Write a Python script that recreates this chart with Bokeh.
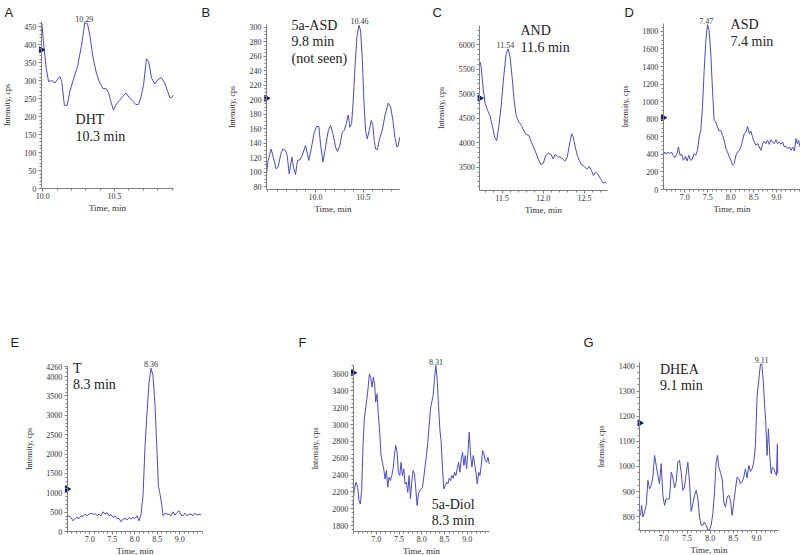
import math
from bokeh.plotting import figure
from bokeh.layouts import column, row
from bokeh.models import FixedTicker, PrintfTickFormatter, Label, Range1d
from bokeh.embed import file_html
from bokeh.resources import INLINE

# ---------------- data ----------------
panel_letters = ["A", "B", "C", "D", "E", "F", "G"]
compound_names = ["DHT\n10.3 min", "5a-ASD\n9.8 min\n(not seen)", "AND\n11.6 min",
                  "ASD\n7.4 min", "T\n8.3 min", "5a-Diol\n8.3 min", "DHEA\n9.1 min"]
peak_labels = ["10.29", "10.46", "11.54", "7.47", "8.36", "8.31", "9.11"]
marker_levels = [386, 202, 4910, 817, 1095, 3616, 1173]

A_time = [9.995, 10.005, 10.025, 10.041, 10.064, 10.087, 10.110, 10.119, 10.133, 10.151,
          10.170, 10.190, 10.213, 10.243, 10.271, 10.293, 10.312, 10.328, 10.351, 10.374,
          10.397, 10.420, 10.442, 10.459, 10.477, 10.493, 10.511, 10.534, 10.557, 10.580,
          10.603, 10.626, 10.649, 10.667, 10.683, 10.702, 10.722, 10.738, 10.757, 10.779,
          10.802, 10.825, 10.848, 10.867, 10.885, 10.896, 10.908]
A_cps = [459, 409, 335, 298, 300, 294, 308, 312, 298, 232,
         231, 271, 303, 340, 400, 462, 459, 427, 363, 321,
         294, 278, 278, 266, 239, 218, 234, 245, 257, 266,
         253, 243, 234, 234, 253, 289, 361, 353, 308, 291,
         303, 309, 294, 273, 253, 253, 260]

B_time = [9.486, 9.503, 9.535, 9.566, 9.587, 9.608, 9.636, 9.657, 9.685, 9.703,
          9.724, 9.752, 9.769, 9.790, 9.811, 9.836, 9.860, 9.895, 9.930, 9.958,
          9.983, 10.010, 10.035, 10.052, 10.077, 10.105, 10.133, 10.157, 10.182, 10.210,
          10.231, 10.255, 10.280, 10.301, 10.322, 10.343, 10.360, 10.378, 10.395, 10.413,
          10.434, 10.455, 10.472, 10.490, 10.510, 10.524, 10.542, 10.563, 10.584, 10.601,
          10.615, 10.629, 10.647, 10.671, 10.699, 10.727, 10.762, 10.787, 10.811, 10.832,
          10.853, 10.867, 10.881]
B_cps = [97.6, 116, 132, 116, 104.5, 107, 125, 132, 130, 123,
         97.6, 120.7, 107, 96.6, 116, 117, 123, 137, 116, 134.5,
         153, 163, 163, 139, 114, 134.5, 157, 164.6, 153, 134.5,
         128.5, 137, 155, 157.6, 167, 179, 162, 167, 199, 245,
         287, 303, 296, 255, 190, 157.6, 146, 157.6, 171.5, 164.6,
         143.8, 132, 131, 146, 157.6, 178, 195.5, 190, 171.5, 148,
         134.5, 137, 148]

C_time = [11.235, 11.247, 11.271, 11.296, 11.325, 11.353, 11.386, 11.410, 11.435, 11.459,
          11.488, 11.516, 11.549, 11.573, 11.598, 11.622, 11.647, 11.671, 11.704, 11.737,
          11.761, 11.794, 11.826, 11.855, 11.883, 11.916, 11.944, 11.973, 12.002, 12.030,
          12.063, 12.095, 12.120, 12.144, 12.173, 12.201, 12.234, 12.263, 12.291, 12.320,
          12.344, 12.365, 12.389, 12.414, 12.438, 12.462, 12.487, 12.511, 12.536, 12.560,
          12.585, 12.609, 12.634, 12.658, 12.683, 12.707, 12.732, 12.756, 12.772]
C_cps = [5646, 5544, 5101, 4794, 4658, 4556, 4317, 4113, 4045, 4317,
         4726, 5271, 5816, 5918, 5748, 5339, 4862, 4556, 4420, 4351,
         4249, 4168, 4147, 4011, 3909, 3772, 3650, 3554, 3582, 3738,
         3786, 3759, 3670, 3759, 3718, 3704, 3670, 3623, 3704, 3977,
         4181, 4113, 3909, 3738, 3636, 3554, 3534, 3486, 3466, 3514,
         3432, 3330, 3398, 3364, 3296, 3228, 3173, 3194, 3173]

D_time = [6.527, 6.564, 6.600, 6.636, 6.673, 6.709, 6.745, 6.782, 6.825, 6.862,
          6.898, 6.935, 6.971, 7.015, 7.051, 7.087, 7.124, 7.160, 7.204, 7.240,
          7.276, 7.313, 7.349, 7.385, 7.422, 7.458, 7.495, 7.531, 7.567, 7.604,
          7.640, 7.676, 7.713, 7.749, 7.785, 7.822, 7.858, 7.895, 7.931, 7.967,
          8.004, 8.040, 8.076, 8.113, 8.149, 8.185, 8.222, 8.258, 8.295, 8.331,
          8.367, 8.404, 8.440, 8.476, 8.513, 8.549, 8.585, 8.622, 8.658, 8.695,
          8.731, 8.767, 8.804, 8.840, 8.876, 8.913, 8.949, 8.985, 9.022, 9.058,
          9.095, 9.131, 9.167, 9.204, 9.240, 9.276, 9.313, 9.349, 9.385, 9.422,
          9.451, 9.480, 9.509]
D_cps = [389, 427, 401, 427, 408, 427, 389, 363, 401, 484,
         389, 401, 333, 378, 325, 389, 333, 340, 408, 389,
         446, 597, 673, 938, 1354, 1694, 1876, 1808, 1543, 1127,
         787, 768, 711, 666, 673, 616, 560, 465, 427, 371,
         333, 276, 295, 389, 427, 446, 484, 560, 635, 654,
         718, 635, 666, 597, 541, 503, 522, 484, 446, 522,
         552, 522, 560, 514, 567, 541, 522, 567, 522, 541,
         514, 541, 484, 492, 465, 484, 446, 484, 439, 579,
         522, 560, 484]

E_time = [6.496, 6.541, 6.585, 6.630, 6.674, 6.719, 6.763, 6.807, 6.852, 6.896,
          6.941, 6.985, 7.030, 7.074, 7.119, 7.163, 7.207, 7.252, 7.296, 7.341,
          7.385, 7.430, 7.474, 7.519, 7.563, 7.607, 7.652, 7.696, 7.741, 7.785,
          7.830, 7.874, 7.919, 7.963, 8.007, 8.052, 8.096, 8.141, 8.185, 8.230,
          8.274, 8.319, 8.363, 8.407, 8.452, 8.496, 8.526, 8.556, 8.600, 8.630,
          8.674, 8.719, 8.763, 8.807, 8.852, 8.896, 8.941, 8.985, 9.030, 9.074,
          9.119, 9.163, 9.207, 9.252, 9.296, 9.341, 9.385, 9.430, 9.474]
E_cps = [362, 405, 362, 276, 336, 362, 336, 405, 388, 448,
         405, 448, 474, 440, 466, 405, 448, 405, 509, 448,
         491, 405, 440, 362, 405, 336, 336, 250, 319, 336,
         302, 362, 319, 362, 336, 405, 276, 448, 922, 2216,
         3078, 3853, 4216, 4026, 3250, 2043, 1181, 1009, 707, 405,
         474, 448, 448, 405, 509, 422, 491, 534, 422, 405,
         474, 405, 448, 448, 405, 474, 422, 448, 431]

F_time = [6.485, 6.515, 6.551, 6.588, 6.618, 6.647, 6.676, 6.706, 6.735, 6.772,
          6.809, 6.846, 6.875, 6.904, 6.934, 6.963, 6.985, 7.015, 7.044, 7.074,
          7.103, 7.132, 7.162, 7.191, 7.221, 7.250, 7.279, 7.309, 7.338, 7.368,
          7.397, 7.426, 7.456, 7.485, 7.515, 7.544, 7.574, 7.603, 7.632, 7.662,
          7.691, 7.721, 7.750, 7.779, 7.809, 7.838, 7.868, 7.897, 7.926, 7.956,
          7.985, 8.015, 8.044, 8.074, 8.103, 8.132, 8.162, 8.191, 8.221, 8.250,
          8.279, 8.309, 8.338, 8.368, 8.397, 8.426, 8.456, 8.485, 8.515, 8.544,
          8.574, 8.603, 8.632, 8.662, 8.691, 8.721, 8.750, 8.779, 8.809, 8.838,
          8.868, 8.897, 8.926, 8.956, 8.985, 9.015, 9.044, 9.074, 9.103, 9.132,
          9.162, 9.191, 9.221, 9.250, 9.279, 9.309, 9.338, 9.368, 9.397, 9.426,
          9.456, 9.485]
F_cps = [2038, 2236, 2315, 2256, 2097, 2058, 2216, 2752, 3069, 3227,
         3386, 3604, 3564, 3445, 3564, 3473, 3267, 3366, 3108, 2910,
         2633, 2553, 2474, 2355, 2454, 2256, 2375, 2335, 2395, 2474,
         2633, 2752, 2672, 2434, 2395, 2553, 2395, 2474, 2296, 2316,
         2196, 2395, 2117, 2316, 2454, 2414, 2236, 2038, 2177, 2216,
         2236, 2256, 2375, 2514, 2633, 2791, 2989, 3188, 3275, 3346,
         3545, 3703, 3545, 3227, 2950, 2791, 2474, 2236, 2276, 2316,
         2296, 2363, 2335, 2395, 2363, 2434, 2395, 2474, 2553, 2434,
         2593, 2672, 2514, 2633, 2474, 2672, 2910, 2633, 2494, 2633,
         2533, 2434, 2296, 2434, 2395, 2514, 2692, 2652, 2573, 2553,
         2613, 2533]

G_time = [6.496, 6.518, 6.547, 6.583, 6.619, 6.655, 6.691, 6.727, 6.763, 6.799,
          6.835, 6.871, 6.906, 6.942, 6.978, 7.014, 7.050, 7.086, 7.122, 7.158,
          7.194, 7.230, 7.266, 7.302, 7.338, 7.374, 7.410, 7.446, 7.482, 7.518,
          7.554, 7.590, 7.626, 7.662, 7.698, 7.734, 7.770, 7.806, 7.842, 7.878,
          7.914, 7.950, 7.986, 8.022, 8.058, 8.094, 8.129, 8.158, 8.187, 8.223,
          8.259, 8.295, 8.331, 8.367, 8.403, 8.439, 8.475, 8.511, 8.547, 8.583,
          8.619, 8.655, 8.691, 8.727, 8.763, 8.799, 8.835, 8.871, 8.906, 8.942,
          8.978, 9.014, 9.050, 9.086, 9.115, 9.144, 9.173, 9.201, 9.230, 9.259,
          9.288, 9.317, 9.345, 9.374, 9.403, 9.432, 9.453, 9.460]
G_cps = [805, 845, 799, 819, 845, 944, 911, 925, 958, 1044,
         1004, 964, 931, 1011, 885, 845, 872, 869, 872, 977,
         958, 914, 938, 1017, 1024, 977, 905, 918, 971, 1017,
         938, 821, 852, 885, 905, 872, 799, 766, 766, 779,
         766, 747, 747, 766, 812, 898, 1017, 1044, 997, 977,
         951, 858, 838, 878, 885, 865, 805, 858, 911, 958,
         951, 931, 938, 958, 991, 954, 1004, 980, 991, 1017,
         1083, 1282, 1342, 1408, 1408, 1348, 1256, 1176, 1044, 1150,
         1044, 971, 997, 991, 977, 964, 1090, 971]

# ---------------- styling ----------------
SERIF = "Liberation Serif"
SANS = "Liberation Sans"
LINE = "#4b4bc4"
AXIS = "#808080"
TXT = "#333333"


def steps(a, b, s):
    n = int(round((b - a) / s))
    return [round(a + i * s, 4) for i in range(n + 1)]


def panel(idx, t, y, xr, yr, yticks, yminor, xticks, xminor,
          W, H, box, name_xy, letter_xy, ylab_standoff=10):
    # box: pixel position (left, top, right, bottom) of the axes inside the canvas
    l, tp, r, b = box
    sx = (xr[1] - xr[0]) / (r - l)
    sy = (yr[1] - yr[0]) / (b - tp)
    x_rng = Range1d(xr[0] - l * sx, xr[1] + (W - r) * sx)
    y_rng = Range1d(yr[0] - (H - b) * sy, yr[1] + tp * sy)

    p = figure(width=W, height=H, x_range=x_rng, y_range=y_rng,
               output_backend="svg", toolbar_location=None, min_border=0)
    p.grid.visible = False
    p.outline_line_color = None
    p.background_fill_color = "white"
    p.border_fill_color = "white"

    p.line(t, y, line_color=LINE, line_width=1)
    p.scatter([xr[0]], [marker_levels[idx]], marker="triangle", size=6,
              angle=-math.pi / 2, color="#15156a")

    for ax in (p.xaxis[0], p.yaxis[0]):
        ax.axis_line_color = AXIS
        ax.major_tick_line_color = AXIS
        ax.minor_tick_line_color = AXIS
        ax.major_tick_out = 3
        ax.major_tick_in = 0
        ax.minor_tick_out = 2
        ax.minor_tick_in = 0
        ax.major_label_text_font = SERIF
        ax.major_label_text_font_size = "8px"
        ax.major_label_text_color = TXT
        ax.axis_label_text_font = SERIF
        ax.axis_label_text_font_style = "normal"
        ax.axis_label_text_color = TXT
    p.xaxis.fixed_location = yr[0]
    p.xaxis.bounds = (xr[0], xr[1])
    p.xaxis.ticker = FixedTicker(ticks=xticks, minor_ticks=xminor)
    p.xaxis.formatter = PrintfTickFormatter(format="%.1f")
    p.xaxis.axis_label = "Time, min"
    p.xaxis.axis_label_text_font_size = "9px"
    p.xaxis.axis_label_standoff = 1
    p.xaxis.major_label_standoff = 1

    p.yaxis.fixed_location = xr[0]
    p.yaxis.bounds = (yr[0], yr[1])
    p.yaxis.ticker = FixedTicker(ticks=yticks, minor_ticks=yminor)
    p.yaxis.axis_label = "Intensity, cps"
    p.yaxis.axis_label_text_font_size = "8px"
    p.yaxis.axis_label_standoff = ylab_standoff
    p.yaxis.major_label_standoff = 2

    # compound name
    p.add_layout(Label(x=name_xy[0], y=name_xy[1], text=compound_names[idx], text_font=SERIF,
                       text_font_size="14px", text_color="#222222", text_baseline="top",
                       text_align="left", text_line_height=1.1))
    # peak apex label
    p.add_layout(Label(x=float(peak_labels[idx]), y=max(y), text=peak_labels[idx],
                       text_font=SERIF, text_font_size="8px", text_color=TXT,
                       text_align="center", text_baseline="bottom", y_offset=1))
    # panel letter (screen px from canvas left / canvas top)
    p.add_layout(Label(x=letter_xy[0], y=H - letter_xy[1], x_units="screen", y_units="screen",
                       text=panel_letters[idx], text_font=SANS, text_font_size="13px",
                       text_color="#222222", text_baseline="alphabetic", text_align="left"))
    return p


R1 = 270
R2 = 285

pA = panel(0, A_time, A_cps, (9.99, 10.91), (0, 465), steps(0, 450, 50), steps(0, 460, 10),
           [10.0, 10.5], steps(10.0, 10.9, 0.1),
           198, R1, (40.7, 21, 173, 188), (10.229, 212), (4, 12))
pB = panel(1, B_time, B_cps, (9.486, 10.88), (76, 304), steps(80, 300, 20), steps(80, 300, 5),
           [10.0, 10.5], steps(9.5, 10.8, 0.1),
           227, R1, (68, 24, 201, 189), (9.748, 313), (3, 12))
pC = panel(2, C_time, C_cps, (11.23, 12.78), (3023, 6395), steps(3500, 6000, 500),
           steps(3100, 6300, 100), [11.5, 12.0, 12.5], steps(11.3, 12.7, 0.1),
           187, R1, (54.3, 25, 182, 190), (11.724, 6436), (7, 12))
pD = panel(3, D_time, D_cps, (6.53, 9.52), (0, 1890), steps(0, 1800, 200), steps(0, 1850, 50),
           steps(7.0, 9.0, 0.5), steps(6.6, 9.5, 0.1),
           188, R1, (50.7, 23, 188, 189), (7.996, 1963), (12, 12))
pE = panel(4, E_time, E_cps, (6.50, 9.50), (0, 4260), steps(0, 4000, 500) + [4260],
           steps(0, 4200, 100), steps(7.0, 9.0, 0.5), steps(6.5, 9.5, 0.1),
           270, R2, (66.7, 96, 201.7, 261), (6.630, 4405), (10, 72))
pF = panel(5, F_time, F_cps, (6.49, 9.49), (1730, 3703), steps(1800, 3600, 200),
           steps(1750, 3700, 50), steps(7.0, 9.0, 0.5), steps(6.5, 9.4, 0.1),
           270, R2, (82.7, 95, 219, 261), (8.221, 2145), (28, 72))
pG = panel(6, G_time, G_cps, (6.48, 9.47), (745, 1414), steps(800, 1400, 100),
           steps(750, 1400, 25), steps(7.0, 9.0, 0.5), steps(6.5, 9.4, 0.1),
           260, R2, (99.3, 92, 237.7, 260), (6.914, 1417), (43, 72))

layout = column(row(pA, pB, pC, pD), row(pE, pF, pG))

with open("out.html", "w") as f:
    f.write(file_html(layout, INLINE))
